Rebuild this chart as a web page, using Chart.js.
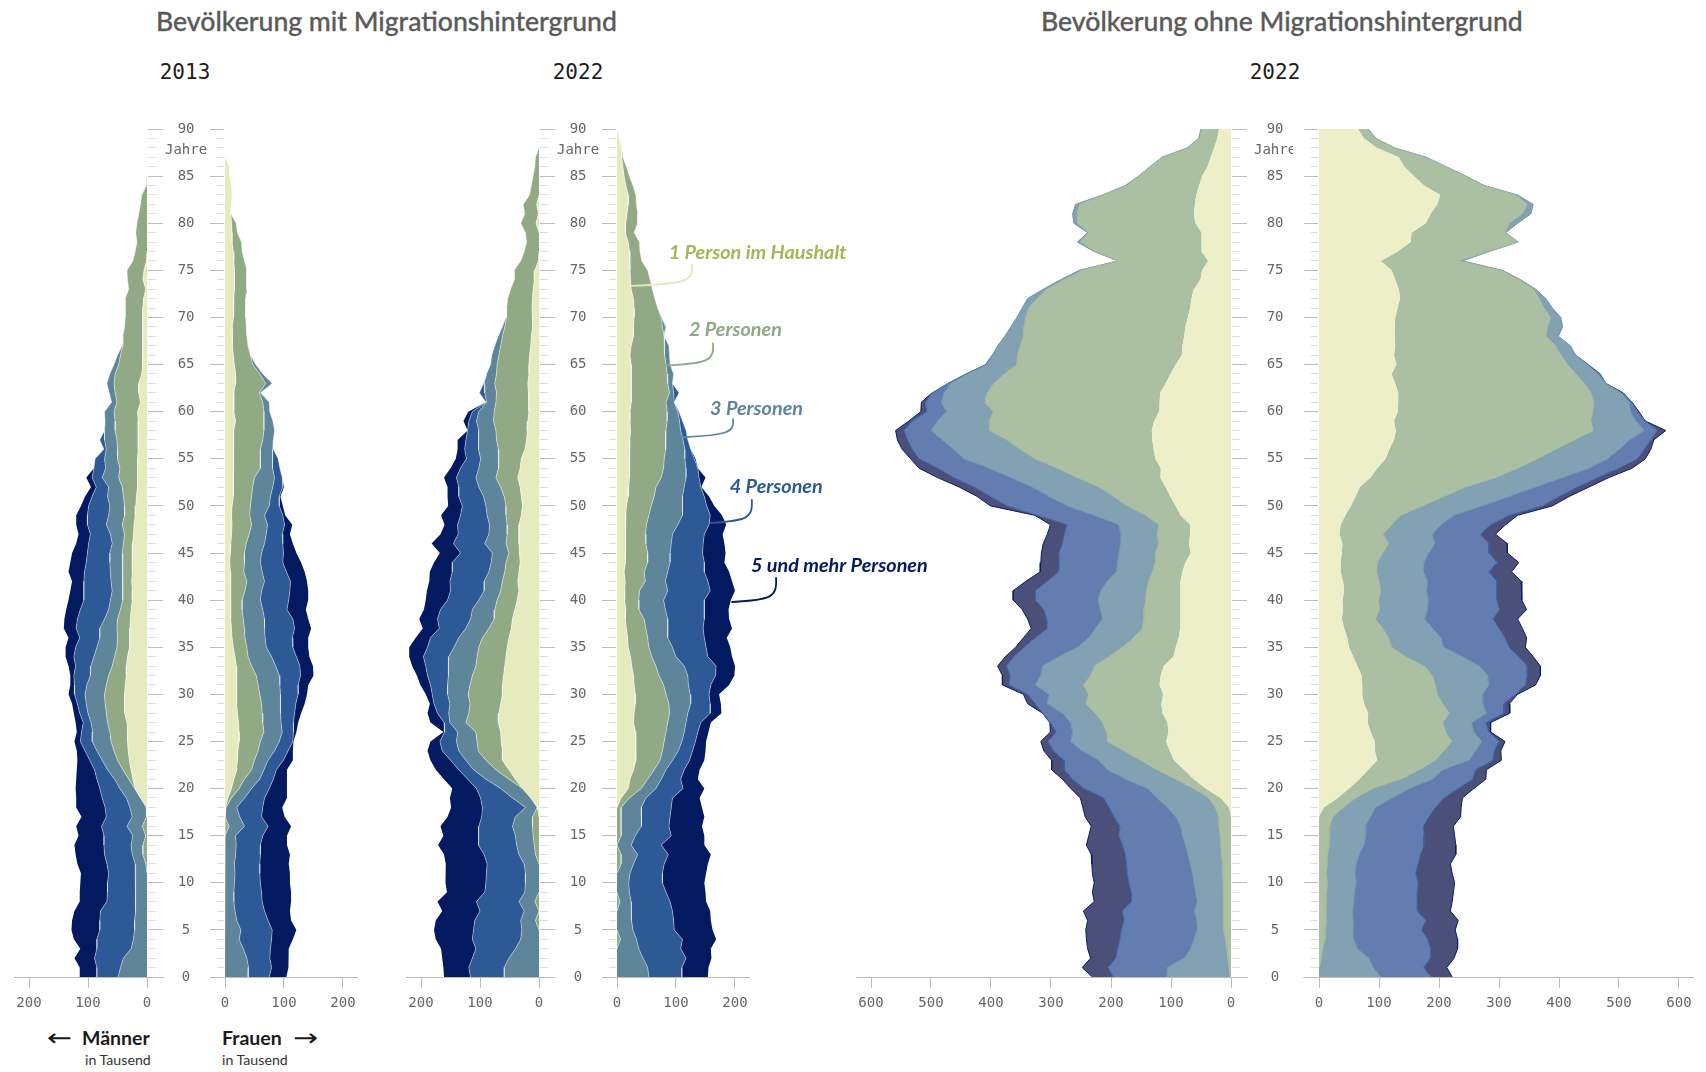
<!DOCTYPE html>
<html lang="de">
<head>
<meta charset="utf-8">
<title>Bevölkerung nach Haushaltsgröße</title>
<script src="https://cdn.jsdelivr.net/npm/chart.js@4"></script>
<style>
html,body{margin:0;padding:0;background:#fff;}
#page{position:relative;width:1706px;height:1072px;overflow:hidden;background:#fff;}
canvas{position:absolute;top:0;}
.t{position:absolute;white-space:nowrap;}
.title{font:500 26.6px/32px Lato,sans-serif;color:#5a5a5a;top:5px;-webkit-text-stroke:.3px #5a5a5a;}
.year{font:400 21px/26px "DejaVu Sans Mono",monospace;color:#1d1d1d;top:59px;transform:translateX(-50%);}
.sex{font:700 19.5px/22px Lato,sans-serif;color:#1a1a1a;top:1027px;}
.unit{font:400 14.2px/18px Lato,sans-serif;color:#333;top:1051px;}
.arrow{font:400 24px/22px "DejaVu Sans",sans-serif;color:#1a1a1a;top:1027px;transform:scaleX(1.25);transform-origin:left center;}
</style>
</head>
<body>
<div id="page">
  <div class="t title" style="left:156px">Bevölkerung mit Migrationshintergrund</div>
  <div class="t title" style="left:1041px">Bevölkerung ohne Migrationshintergrund</div>
  <div class="t year" style="left:185px">2013</div>
  <div class="t year" style="left:578px">2022</div>
  <div class="t year" style="left:1275px">2022</div>
  <div class="t arrow" style="left:47px">←</div>
  <div class="t sex" style="left:82px">Männer</div>
  <div class="t unit" style="left:85px">in Tausend</div>
  <div class="t sex" style="left:222px">Frauen</div>
  <div class="t arrow" style="left:293px">→</div>
  <div class="t unit" style="left:222px">in Tausend</div>
</div>
<script>
// ages, top of the picture first; each array below runs from age 90 down to age 0
const ages = Array.from({length:91},(_,i)=>90-i);
const shortTicks = ages.filter(a=>a%5!==0);
const longTicks = ages.filter(a=>a%5===0);
const ageWordAt = 87.7;
const ageWord = 'Jahre';
const ageLabelTicks = [...longTicks, ageWordAt];
const householdLabels = ['1 Person im Haushalt','2 Personen','3 Personen','4 Personen','5 und mehr Personen'];
const ticksSmall = [0,100,200];
const ticksLarge = [0,100,200,300,400,500,600];

// Upper edge of each household band (thousand people, running total of the stack).
// 0 above an age where the band is not present.
// Mit Migrationshintergrund 2013, Männer
const m13_1=[0,0,0,0,0,0,0,0,0,0, 0,0,0,0,1,5,7,2,6,7, 7,7,7,7,8,8,9,14,14,11, 16,15,15,15,15,16,16,16,16,18, 19,20,22,23,24,25,25,25,26,25, 25,27,28,29,29,30,33,35,35,37, 38,38,38,34,33,33,32,30,27,24, 20,11,1,0,0,0,0,0,0,0, 0,0,0,0,0,0,0,0,0,0, 0];
const m13_2=[0,0,0,0,0,0,1,9,11,14, 17,19,17,20,24,34,33,31,37,37, 37,38,41,41,45,48,54,56,54,51, 56,54,54,51,50,50,46,48,42,40, 38,38,42,38,40,42,41,42,41,41, 41,45,50,51,50,51,55,59,65,69, 72,71,69,67,63,61,56,50,41,31, 21,11,1,1,8,2,7,7,2,0, 0,0,0,0,0,0,0,0,0,0, 0];
const m13_3=[0,0,0,0,0,0,0,0,0,0, 0,0,0,0,0,0,0,0,0,0, 0,0,0,42,50,56,63,68,64,60, 72,71,72,72,69,72,70,76,65,67, 63,65,69,62,59,63,63,62,61,59, 62,65,72,80,80,85,90,95,96,102, 105,103,100,95,92,93,85,76,67,55, 46,35,29,25,34,24,27,25,20,19, 19,19,20,20,21,21,23,27,40,45, 49];
const m13_4=[0,0,0,0,0,0,0,0,0,0, 0,0,0,0,0,0,0,0,0,0, 0,0,0,0,0,0,0,0,0,0, 0,0,72,80,73,88,90,93,86,93, 99,101,101,96,99,101,103,106,107,107, 107,113,118,120,114,121,124,121,124,123, 123,118,114,108,111,113,105,97,89,85, 80,76,71,69,77,73,73,72,68,65, 67,67,68,79,80,80,85,85,89,85, 85];
const m13_5=[0,0,0,0,0,0,0,0,0,0, 0,0,0,0,0,0,0,0,0,0, 0,0,0,0,0,0,0,0,0,0, 0,0,0,0,0,88,90,103,95,105, 112,120,120,116,120,127,130,133,127,130, 133,137,140,141,133,138,138,133,130,130, 133,127,124,121,119,123,119,118,119,120, 121,120,120,111,120,116,123,121,118,112, 113,114,114,123,127,128,124,113,123,114, 114];
// Mit Migrationshintergrund 2013, Frauen
const w13_1=[0,0,0,0,8,8,11,12,11,10, 11,12,12,14,15,16,16,16,15,15, 14,12,12,13,14,16,18,18,15,15, 15,18,15,14,14,14,14,15,15,14, 12,11,12,11,10,9,8,9,10,9, 9,10,10,11,12,14,17,19,19,20, 20,20,21,23,24,24,22,21,20,15, 11,5,1,0,0,0,0,0,0,0, 0,0,0,0,0,0,0,0,0,0, 0];
const w13_2=[0,0,0,0,0,0,0,0,0,10, 19,21,28,29,33,37,37,36,35,35, 35,36,37,39,43,47,59,69,58,64, 66,66,66,64,60,60,60,50,47,45, 43,42,45,41,36,33,33,32,37,34, 29,29,31,33,34,37,39,45,53,56, 59,62,63,64,66,60,56,50,45,33, 24,11,2,0,7,0,0,0,0,0, 0,0,0,0,0,0,0,0,0,0, 0];
const w13_3=[0,0,0,0,0,0,0,0,0,0, 0,0,0,0,0,0,0,0,0,0, 0,0,0,0,43,52,64,80,60,75, 76,81,84,82,81,80,81,84,81,77, 75,67,72,70,67,62,60,63,67,62, 60,64,67,67,68,70,79,86,92,93, 94,94,94,95,97,92,84,73,66,59, 45,33,20,25,33,18,19,18,16,17, 16,15,15,17,20,27,24,31,37,40, 39];
const w13_4=[0,0,0,0,0,0,0,0,0,0, 0,0,0,0,0,0,0,0,0,0, 0,0,0,0,0,0,0,0,0,0, 0,0,0,0,82,90,93,97,98,92, 92,98,101,97,98,99,98,104,111,110, 108,105,115,118,114,115,121,127,128,124, 124,120,118,116,116,115,107,99,87,82, 75,67,64,62,73,64,60,60,59,59, 60,62,63,67,73,80,79,77,76,79, 75];
const w13_5=[0,0,0,0,0,0,0,0,0,0, 0,0,0,0,0,0,0,0,0,0, 0,0,0,0,0,0,0,0,0,0, 0,0,0,0,0,0,0,97,100,94, 98,102,114,110,115,121,129,135,139,141, 141,137,141,146,141,141,143,149,150,141, 139,135,129,124,121,116,115,115,105,105, 105,105,97,101,112,105,105,110,108,110, 110,112,112,110,112,121,115,108,107,108, 104];
// Mit Migrationshintergrund 2022, Männer
const m22_1=[0,0,0,0,0,0,0,0,4,1, 5,0,0,0,1,7,8,10,11,12, 11,11,13,14,16,17,17,19,18,17, 17,19,20,21,24,30,32,36,32,30, 28,30,34,34,34,33,32,34,36,34, 37,41,45,47,51,54,56,58,60,62, 62,65,68,69,65,64,62,62,51,40, 28,14,3,0,0,0,0,0,0,0, 0,0,0,0,0,0,0,0,0,0, 0];
const m22_2=[0,0,0,6,7,10,13,16,27,24, 31,23,21,25,31,42,42,48,53,55, 55,58,62,65,68,71,72,75,72,73, 76,77,73,72,69,68,69,73,65,59, 56,56,54,54,56,51,56,58,62,65, 71,75,76,85,96,102,105,107,113,117, 120,117,119,124,107,105,103,90,73,51, 23,11,2,11,11,10,8,6,0,0, 0,0,7,0,6,0,0,0,0,0, 0];
const m22_3=[0,0,0,0,0,0,0,0,0,0, 0,0,0,0,0,0,0,0,0,0, 56,62,69,75,80,82,89,93,92,89, 102,106,102,102,103,99,102,107,102,94, 90,88,84,85,92,79,81,85,93,93, 102,113,116,124,136,144,153,153,154,155, 155,151,153,151,138,140,136,124,111,90, 65,45,23,40,45,40,38,34,25,23, 23,24,34,25,31,29,31,40,51,59, 59];
const m22_4=[0,0,0,0,0,0,0,0,0,0, 0,0,0,0,0,0,0,0,0,0, 0,0,0,0,0,0,0,94,101,90, 113,119,121,124,126,123,133,140,136,136, 130,133,138,137,145,133,147,147,151,150, 155,167,172,169,184,189,196,192,189,184, 181,178,172,161,160,168,164,150,136,121, 106,99,96,97,102,102,103,93,88,89, 90,92,106,100,109,111,113,107,113,119, 116];
const m22_5=[0,0,0,0,0,0,0,0,0,0, 0,0,0,0,0,0,0,0,0,0, 0,0,0,0,0,0,0,0,0,0, 120,128,120,138,138,141,150,161,155,155, 154,166,160,167,182,168,178,185,186,190, 192,195,203,197,209,220,220,215,207,201, 192,185,189,184,162,184,189,184,175,161, 147,151,149,155,167,162,171,161,158,159, 158,156,172,164,175,178,175,166,164,162, 161];
// Mit Migrationshintergrund 2022, Frauen
const w22_1=[0,4,7,8,10,12,15,19,19,17, 15,14,19,21,22,22,23,24,28,29, 29,28,28,24,22,24,24,24,25,24, 22,22,23,22,22,21,21,21,20,19, 16,15,14,14,15,15,14,12,14,13, 13,15,14,16,18,19,23,25,28,29, 31,31,29,28,31,32,32,32,28,22, 19,7,0,0,0,0,0,0,0,0, 0,0,0,0,0,0,0,0,0,0, 0];
const w22_2=[0,4,8,10,16,21,27,32,33,35, 35,29,38,39,42,52,56,60,64,69, 75,77,80,80,81,83,85,86,89,83, 85,85,83,83,82,80,79,75,66,63, 58,54,50,48,49,52,52,46,48,38, 37,37,46,49,52,54,59,66,71,79, 83,88,89,86,83,80,77,73,63,52, 41,21,7,7,7,7,0,7,7,0, 0,0,5,0,0,0,6,0,0,0, 0];
const w22_3=[0,0,0,0,0,0,0,0,0,0, 0,0,0,0,0,0,0,0,0,0, 76,82,80,88,89,90,96,94,96,97, 103,106,108,112,115,115,117,117,114,111, 111,111,103,94,92,90,90,86,82,86, 79,82,86,86,86,94,100,114,120,121, 124,125,120,117,114,110,104,94,83,75, 66,49,41,42,41,31,24,35,28,22, 20,21,24,24,25,27,33,37,44,52, 54];
const w22_4=[0,0,0,0,0,0,0,0,0,0, 0,0,0,0,0,0,0,0,0,0, 0,83,0,0,0,0,0,0,105,0, 105,111,117,120,125,131,137,139,142,148, 152,158,156,148,146,145,148,148,154,158, 148,148,148,146,148,151,154,168,167,159, 156,158,158,142,137,133,128,123,114,108, 112,94,92,90,88,92,75,87,80,77, 77,83,90,94,96,97,111,108,117,110, 110];
const w22_5=[0,0,0,0,0,0,0,0,0,0, 0,0,0,0,0,0,0,0,0,0, 0,0,0,0,0,0,0,0,0,0, 0,0,0,0,0,133,137,150,143,156, 165,178,185,179,182,184,182,190,195,200, 193,189,190,195,186,192,195,200,199,190, 173,176,177,159,155,151,150,148,140,137, 148,140,144,148,144,148,148,159,154,151, 148,150,151,158,159,162,168,159,160,155, 154];
// Ohne Migrationshintergrund 2022, Männer
const om_1=[20,23,28,34,39,48,53,58,60,62, 59,49,49,49,38,48,51,62,66,68, 72,76,78,81,82,92,101,109,118,119, 120,128,132,131,129,126,117,118,109,101, 92,84,68,68,70,67,76,81,84,84, 84,84,85,85,87,92,96,112,117,119, 113,116,114,106,104,108,102,95,78,62, 42,17,3,0,0,0,0,0,0,0, 0,0,0,0,0,0,0,0,0,0, 0];
const om_2=[49,53,72,114,134,153,173,212,253,256, 256,237,251,226,189,248,278,306,323,337, 342,345,346,351,356,357,377,395,406,410, 396,403,402,373,351,326,289,256,220,195, 173,142,120,123,120,126,126,131,137,141, 142,145,145,148,162,181,203,227,234,246, 237,242,226,214,207,206,178,151,123,92, 62,37,26,20,20,18,17,16,14,14, 13,13,13,13,12,12,9,7,5,3, 1];
const om_3=[50,54,73,115,135,154,176,214,259,264, 262,239,256,228,189,253,284,313,339,348, 357,367,377,389,398,407,439,467,478,483, 474,489,500,481,462,445,403,367,331,303, 273,228,187,184,184,187,189,191,206,217, 222,218,214,226,237,256,287,314,317,326, 303,306,281,267,264,267,248,220,206,176, 139,123,106,92,84,81,76,72,68,64, 62,59,56,61,57,56,62,67,78,106, 107];
const om_4=[0,0,0,0,0,0,0,0,0,0, 0,0,0,0,0,0,0,0,0,0, 0,0,0,0,0,409,442,472,498,509, 507,531,545,539,531,520,489,462,428,401, 373,323,273,278,281,287,286,287,306,326, 326,312,307,306,326,345,362,374,368,370, 339,326,314,301,291,305,296,278,278,264, 245,212,203,195,185,187,181,176,174,173, 170,166,166,181,178,183,185,189,192,205, 196];
const om_5=[0,0,0,0,0,0,0,0,0,0, 0,0,0,0,0,0,0,0,0,0, 0,0,0,0,0,0,0,0,498,516, 517,537,559,556,548,534,520,489,453,423, 401,327,301,306,313,316,317,318,342,363, 363,348,339,333,346,359,376,389,381,381, 346,339,314,302,301,317,312,299,299,281, 267,251,247,243,233,237,241,233,232,231, 228,231,228,246,239,242,241,239,234,248, 231];
// Ohne Migrationshintergrund 2022, Frauen
const ow_1=[65,75,96,133,142,158,175,202,197,186, 178,154,153,131,103,121,127,133,135,131, 127,126,126,127,125,129,121,127,132,132, 131,125,128,125,117,111,97,86,68,61, 53,44,36,34,39,38,36,36,40,42, 39,40,38,42,47,50,57,64,71,72, 72,75,82,81,86,93,93,97,82,67, 50,31,8,0,0,0,0,0,0,0, 0,0,0,0,0,0,0,0,0,0, 0];
const ow_2=[81,94,125,178,211,244,275,328,347,339, 317,310,331,283,233,303,333,358,367,375, 386,381,378,394,403,414,428,442,453,458, 456,453,457,425,394,364,331,294,244,208, 172,136,121,106,116,106,97,96,100,103, 99,101,94,106,116,121,144,175,189,194, 197,206,217,206,211,221,208,194,167,136, 89,61,40,23,18,17,17,14,14,12, 14,13,12,12,12,11,10,6,4,0, 0];
const ow_3=[82,95,126,179,212,245,276,331,357,353, 331,311,332,284,239,306,336,361,378,389, 403,406,399,419,428,447,464,478,503,517, 519,528,542,517,500,481,450,406,361,317, 272,225,203,189,193,183,175,174,181,179, 182,181,176,189,203,208,239,267,281,283, 273,273,279,254,258,271,261,250,206,189, 150,122,94,86,77,78,75,67,62,60, 62,59,58,56,57,57,58,64,83,90, 103];
const ow_4=[0,0,0,0,0,0,0,0,0,0, 0,0,0,0,0,0,0,0,0,0, 0,0,0,0,0,449,469,472,506,522, 531,544,564,553,542,531,500,464,431,400, 372,317,286,269,283,283,297,283,296,296, 296,301,290,300,310,317,333,347,347,344, 327,308,308,278,283,300,292,290,261,256, 232,208,194,183,174,175,175,169,165,161, 165,164,164,164,178,171,181,186,186,174, 187];
const ow_5=[0,0,0,0,0,0,0,0,0,0, 0,0,0,0,0,0,0,0,0,0, 0,0,0,0,0,0,0,0,507,522, 533,544,578,558,553,544,522,483,450,417, 389,331,311,294,314,314,333,321,337,338, 338,346,331,339,346,344,357,369,369,361, 331,317,318,286,286,310,303,304,279,278, 258,239,237,236,224,226,228,228,219,222, 226,224,222,219,232,227,231,231,225,213, 222];

// Styling (kept apart from the data)
const strongFills = ['#e6ebbf','#92a986','#5f859b','#2d5a97','#041a60'];
const strongEdges = ['rgba(255,255,255,.5)','rgba(255,255,255,.45)','rgba(255,255,255,.4)','rgba(255,255,255,.4)','rgba(0,0,0,0)'];
const softFills = ['#ecefc8','#abbfa3','#82a1b3','#637db1','#4a5079'];
const softEdges = ['rgba(0,0,0,0)','#a3b89a','#6f93a9','#3c62a4','#0a1c60'];
const tickFont = {family:'"DejaVu Sans Mono",monospace',size:14};
const tickText = '#666666';
const lineLong = '#bdbdbd';
const lineShort = '#dddddd';

const annotations = [
  {i:0,value:25,age:73.35,dx:60,dy:-21,tx:37,ty:-33,text:'#a9b35a',line:'#e3e8b8'},
  {i:1,value:83,age:64.9,dx:47,dy:-22,tx:23,ty:-36,text:'#8fa886',line:'#8fa886'},
  {i:2,value:112,age:57.3,dx:50,dy:-18,tx:27,ty:-28,text:'#5f859b',line:'#5f859b'},
  {i:3,value:159,age:48.2,dx:41,dy:-23,tx:19,ty:-36,text:'#2d5a97',line:'#2d5a97'},
  {i:4,value:195,age:39.8,dx:44,dy:-24,tx:19,ty:-36,text:'#041a60',line:'#041a60'}
];
const annotationPlugin = {
  id:'householdLabels',
  afterDatasetsDraw(chart){
    const {ctx,scales:{x,y}} = chart;
    ctx.save();
    annotations.forEach(a=>{
      const sx=x.getPixelForValue(a.value), sy=y.getPixelForValue(a.age);
      const ex=sx+a.dx, ey=sy+a.dy;
      ctx.strokeStyle=a.line; ctx.lineWidth=1.8; ctx.lineCap='round';
      ctx.beginPath(); ctx.moveTo(sx,sy);
      ctx.bezierCurveTo(ex-4,sy-2,ex+1,sy-5,ex,ey); ctx.stroke();
      ctx.fillStyle=a.text; ctx.font='italic 700 19.8px Lato,sans-serif';
      ctx.textAlign='left'; ctx.textBaseline='middle';
      ctx.fillText(householdLabels[a.i],sx+a.tx,sy+a.ty);
    });
    ctx.restore();
  }
};

const plotTop=129, plotBottom=977, pageH=1072, xAxisH=50, labelAxisW=46;

function panel(p){
  const page=document.getElementById('page');
  const cv=document.createElement('canvas');
  const W=p.canvasRight-p.canvasLeft;
  cv.width=W; cv.height=pageH; cv.style.left=p.canvasLeft+'px'; cv.style.width=W+'px'; cv.style.height=pageH+'px';
  page.appendChild(cv);
  p.edges.forEach(e=>{ if(e.length!==91) throw new Error('length '+e.length); });
  // running total can never fall below the band underneath
  const stacked=[]; p.edges.forEach((e,i)=>stacked.push(e.map((v,j)=>i?Math.max(v,stacked[i-1][j]):v)));
  const thick=(i,j)=>stacked[i][j]-(i?stacked[i-1][j]:0);
  const men=p.side==='men';
  const xMin=men?(p.zero-p.plotRight)/p.ppu:(p.plotLeft-p.zero)/p.ppu;
  const xMax=men?(p.zero-p.plotLeft)/p.ppu:(p.plotRight-p.zero)/p.ppu;
  const toVal=px=>men?(p.zero-px)/p.ppu:(px-p.zero)/p.ppu;
  // an axis anchored on a value draws its tick marks leftwards from that value
  const longLen=men?15:14, shortLen=men?8:7;
  const longAt=men?toVal(p.zero+16):toVal(p.zero-1);
  const shortAt=men?toVal(p.zero+9):toVal(p.zero-1);
  const tickAxis=(at,len,color,list)=>({
    type:'linear',axis:'y',min:0,max:90,position:{x:at},
    afterBuildTicks:s=>{s.ticks=list.map(v=>({value:v}));},
    grid:{display:true,drawOnChartArea:false,drawTicks:true,tickLength:len,tickColor:color,tickWidth:1},
    border:{display:false},ticks:{display:false}
  });
  const scales={
    x:{type:'linear',position:'bottom',reverse:men,min:xMin,max:xMax,
      afterBuildTicks:s=>{s.ticks=p.xTicks.map(v=>({value:v}));},
      afterFit:s=>{s.height=xAxisH;},
      grid:{drawOnChartArea:false,drawTicks:true,tickLength:11,tickColor:lineLong,tickWidth:1},
      border:{display:true,color:lineLong,width:1},
      ticks:{font:tickFont,color:tickText,padding:7,maxRotation:0,minRotation:0,autoSkip:false}},
    y:tickAxis(shortAt,shortLen,lineShort,shortTicks),
    yLong:tickAxis(longAt,longLen,lineLong,longTicks)
  };
  if(men){
    scales.yLabels={type:'linear',axis:'y',position:'right',min:0,max:90,
      afterBuildTicks:s=>{s.ticks=[...ageLabelTicks].sort((a,b)=>a-b).map(v=>({value:v}));},
      afterFit:s=>{s.width=labelAxisW;},
      grid:{display:false,drawTicks:false},border:{display:false},
      ticks:{font:tickFont,color:tickText,padding:p.labelCentre-p.plotRight-21,crossAlign:'center',autoSkip:false,
        callback:v=>v===ageWordAt?ageWord:String(v)}};
  }
  const common={yAxisID:'y',pointRadius:0,pointHoverRadius:0,tension:0};
  // filled bands, without a stroke, so that no seams appear in the fill
  const bands=stacked.map((e,i)=>({
    ...common,
    label:householdLabels[i],
    data:ages.map((a,j)=>({x:e[j],y:a})),
    order:1,
    fill:i?'-1':'origin',
    backgroundColor:p.fills[i],
    borderWidth:0
  }));
  // band outlines on top, hidden along ages where the band is empty
  const outlines=stacked.map((e,i)=>({
    ...common,
    label:householdLabels[i],
    data:ages.map((a,j)=>({x:e[j],y:a})),
    order:0,
    fill:false,
    borderColor:p.lines[i],
    borderWidth:1,
    segment:{borderColor:c=>(thick(i,c.p0DataIndex)<=0&&thick(i,c.p1DataIndex)<=0)?'rgba(0,0,0,0)':undefined}
  }));
  new Chart(cv,{
    type:'line',
    data:{datasets:[...bands,...outlines]},
    plugins:p.plugins||[],
    options:{
      indexAxis:'y',responsive:false,animation:false,events:[],devicePixelRatio:1,
      layout:{padding:{
        left:p.plotLeft-p.canvasLeft,
        right:p.canvasRight-p.plotRight-(men?labelAxisW:0),
        top:plotTop,
        bottom:pageH-plotBottom-xAxisH}},
      plugins:{legend:{display:false},tooltip:{enabled:false},title:{display:false}},
      scales
    }
  });
}

panel({side:'men',edges:[m13_1,m13_2,m13_3,m13_4,m13_5],fills:strongFills,lines:strongEdges,zero:147,ppu:.59,plotLeft:14,plotRight:163,canvasLeft:0,canvasRight:212,labelCentre:186,xTicks:ticksSmall});
panel({side:'women',edges:[w13_1,w13_2,w13_3,w13_4,w13_5],fills:strongFills,lines:strongEdges,zero:225,ppu:.59,plotLeft:210,plotRight:357,canvasLeft:205,canvasRight:365,xTicks:ticksSmall});
panel({side:'men',edges:[m22_1,m22_2,m22_3,m22_4,m22_5],fills:strongFills,lines:strongEdges,zero:539,ppu:.59,plotLeft:406,plotRight:554,canvasLeft:395,canvasRight:603,labelCentre:578,xTicks:ticksSmall});
panel({side:'women',edges:[w22_1,w22_2,w22_3,w22_4,w22_5],fills:strongFills,lines:strongEdges,zero:617,ppu:.59,plotLeft:602,plotRight:749,canvasLeft:597,canvasRight:960,xTicks:ticksSmall,plugins:[annotationPlugin]});
panel({side:'men',edges:[om_1,om_2,om_3,om_4,om_5],fills:softFills,lines:softEdges,zero:1231,ppu:.6,plotLeft:856,plotRight:1247,canvasLeft:845,canvasRight:1300,labelCentre:1275,xTicks:ticksLarge});
panel({side:'women',edges:[ow_1,ow_2,ow_3,ow_4,ow_5],fills:softFills,lines:softEdges,zero:1319,ppu:.6,plotLeft:1303,plotRight:1693,canvasLeft:1298,canvasRight:1706,xTicks:ticksLarge});
</script>
</body>
</html>
